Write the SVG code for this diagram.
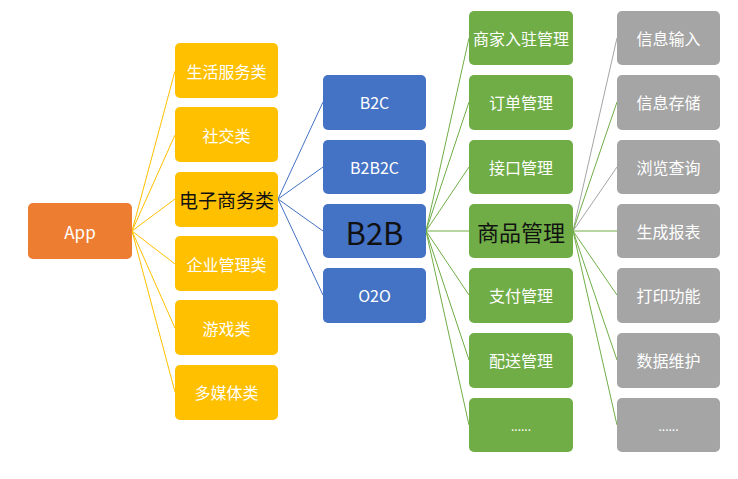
<svg xmlns="http://www.w3.org/2000/svg" width="738" height="479" viewBox="0 0 738 479">
<style>
.o{fill:#ED7D31}.y{fill:#FFC000}.b{fill:#4472C4}.g{fill:#70AD47}.a{fill:#A5A5A5}
text{font-family:"Microsoft YaHei","Noto Sans CJK SC","Liberation Sans",sans-serif;text-anchor:middle;dominant-baseline:central;fill:#ffffff;font-size:16px}
text.k{fill:#111111}
text.s17{font-size:17px}
text.s19{font-size:19px}
text.s22{font-size:22px}
text.s31{font-size:31px}
text.s12{font-size:12px}
.cy{stroke:#FFC000}.cb{stroke:#4472C4}.cg{stroke:#70AD47}.ca{stroke:#A5A5A5}
#connectors line{stroke-width:1;fill:none}
</style>
<rect width="738" height="479" fill="#ffffff"/>
<g id="connectors">
<line class="cy" x1="132" y1="231" x2="175" y2="71"/>
<line class="cy" x1="132" y1="231" x2="175" y2="135"/>
<line class="cy" x1="132" y1="231" x2="175" y2="199"/>
<line class="cy" x1="132" y1="231" x2="175" y2="264"/>
<line class="cy" x1="132" y1="231" x2="175" y2="328"/>
<line class="cy" x1="132" y1="231" x2="175" y2="392"/>
<line class="cb" x1="278" y1="199" x2="323" y2="102"/>
<line class="cb" x1="278" y1="199" x2="323" y2="167"/>
<line class="cb" x1="278" y1="199" x2="323" y2="231"/>
<line class="cb" x1="278" y1="199" x2="323" y2="295"/>
<line class="cg" x1="426" y1="231" x2="469" y2="38"/>
<line class="cg" x1="426" y1="231" x2="469" y2="102"/>
<line class="cg" x1="426" y1="231" x2="469" y2="167"/>
<line class="cg" x1="426" y1="231" x2="469" y2="231"/>
<line class="cg" x1="426" y1="231" x2="469" y2="295"/>
<line class="cg" x1="426" y1="231" x2="469" y2="360"/>
<line class="cg" x1="426" y1="231" x2="469" y2="425"/>
<line class="ca" x1="573" y1="231" x2="617" y2="38"/>
<line class="cg" x1="573" y1="231" x2="617" y2="102"/>
<line class="ca" x1="573" y1="231" x2="617" y2="167"/>
<line class="cg" x1="573" y1="231" x2="617" y2="231"/>
<line class="cg" x1="573" y1="231" x2="617" y2="295"/>
<line class="cg" x1="573" y1="231" x2="617" y2="360"/>
<line class="cg" x1="573" y1="231" x2="617" y2="425"/>
</g>
<g id="app"><rect class="o" x="28" y="203" width="104" height="56" rx="5"/><text class="s17" x="80" y="231">App</text></g>
<g id="life"><rect class="y" x="175" y="43" width="103" height="55" rx="5"/><text x="226.5" y="71">生活服务类</text></g>
<g id="social"><rect class="y" x="175" y="107" width="103" height="55" rx="5"/><text x="226.5" y="135">社交类</text></g>
<g id="ecommerce"><rect class="y" x="175" y="172" width="103" height="55" rx="5"/><text class="k s19" x="226.5" y="199">电子商务类</text></g>
<g id="enterprise"><rect class="y" x="175" y="236" width="103" height="55" rx="5"/><text x="226.5" y="264">企业管理类</text></g>
<g id="game"><rect class="y" x="175" y="300" width="103" height="55" rx="5"/><text x="226.5" y="328">游戏类</text></g>
<g id="media"><rect class="y" x="175" y="365" width="103" height="55" rx="5"/><text x="226.5" y="392">多媒体类</text></g>
<g id="b2c"><rect class="b" x="323" y="75" width="103" height="55" rx="5"/><text x="374.5" y="102">B2C</text></g>
<g id="b2b2c"><rect class="b" x="323" y="140" width="103" height="54" rx="5"/><text x="374.5" y="167">B2B2C</text></g>
<g id="b2b"><rect class="b" x="323" y="204" width="103" height="54" rx="5"/><text class="k s31" x="374.5" y="231">B2B</text></g>
<g id="o2o"><rect class="b" x="323" y="268" width="103" height="55" rx="5"/><text x="374.5" y="295">O2O</text></g>
<g id="merchant"><rect class="g" x="469" y="11" width="104" height="54" rx="5"/><text x="521" y="38">商家入驻管理</text></g>
<g id="order"><rect class="g" x="469" y="75" width="104" height="55" rx="5"/><text x="521" y="102">订单管理</text></g>
<g id="api"><rect class="g" x="469" y="140" width="104" height="54" rx="5"/><text x="521" y="167">接口管理</text></g>
<g id="goods"><rect class="g" x="469" y="204" width="104" height="54" rx="5"/><text class="k s22" x="521" y="231">商品管理</text></g>
<g id="pay"><rect class="g" x="469" y="268" width="104" height="55" rx="5"/><text x="521" y="295">支付管理</text></g>
<g id="delivery"><rect class="g" x="469" y="333" width="104" height="55" rx="5"/><text x="521" y="360">配送管理</text></g>
<g id="more1"><rect class="g" x="469" y="398" width="104" height="54" rx="5"/><text class="s12" x="521" y="425">......</text></g>
<g id="input"><rect class="a" x="617" y="11" width="103" height="54" rx="5"/><text x="668.5" y="38">信息输入</text></g>
<g id="store"><rect class="a" x="617" y="75" width="103" height="55" rx="5"/><text x="668.5" y="102">信息存储</text></g>
<g id="browse"><rect class="a" x="617" y="140" width="103" height="54" rx="5"/><text x="668.5" y="167">浏览查询</text></g>
<g id="report"><rect class="a" x="617" y="204" width="103" height="54" rx="5"/><text x="668.5" y="231">生成报表</text></g>
<g id="print"><rect class="a" x="617" y="268" width="103" height="55" rx="5"/><text x="668.5" y="295">打印功能</text></g>
<g id="maintain"><rect class="a" x="617" y="333" width="103" height="55" rx="5"/><text x="668.5" y="360">数据维护</text></g>
<g id="more2"><rect class="a" x="617" y="398" width="103" height="54" rx="5"/><text class="s12" x="668.5" y="425">......</text></g>
</svg>
